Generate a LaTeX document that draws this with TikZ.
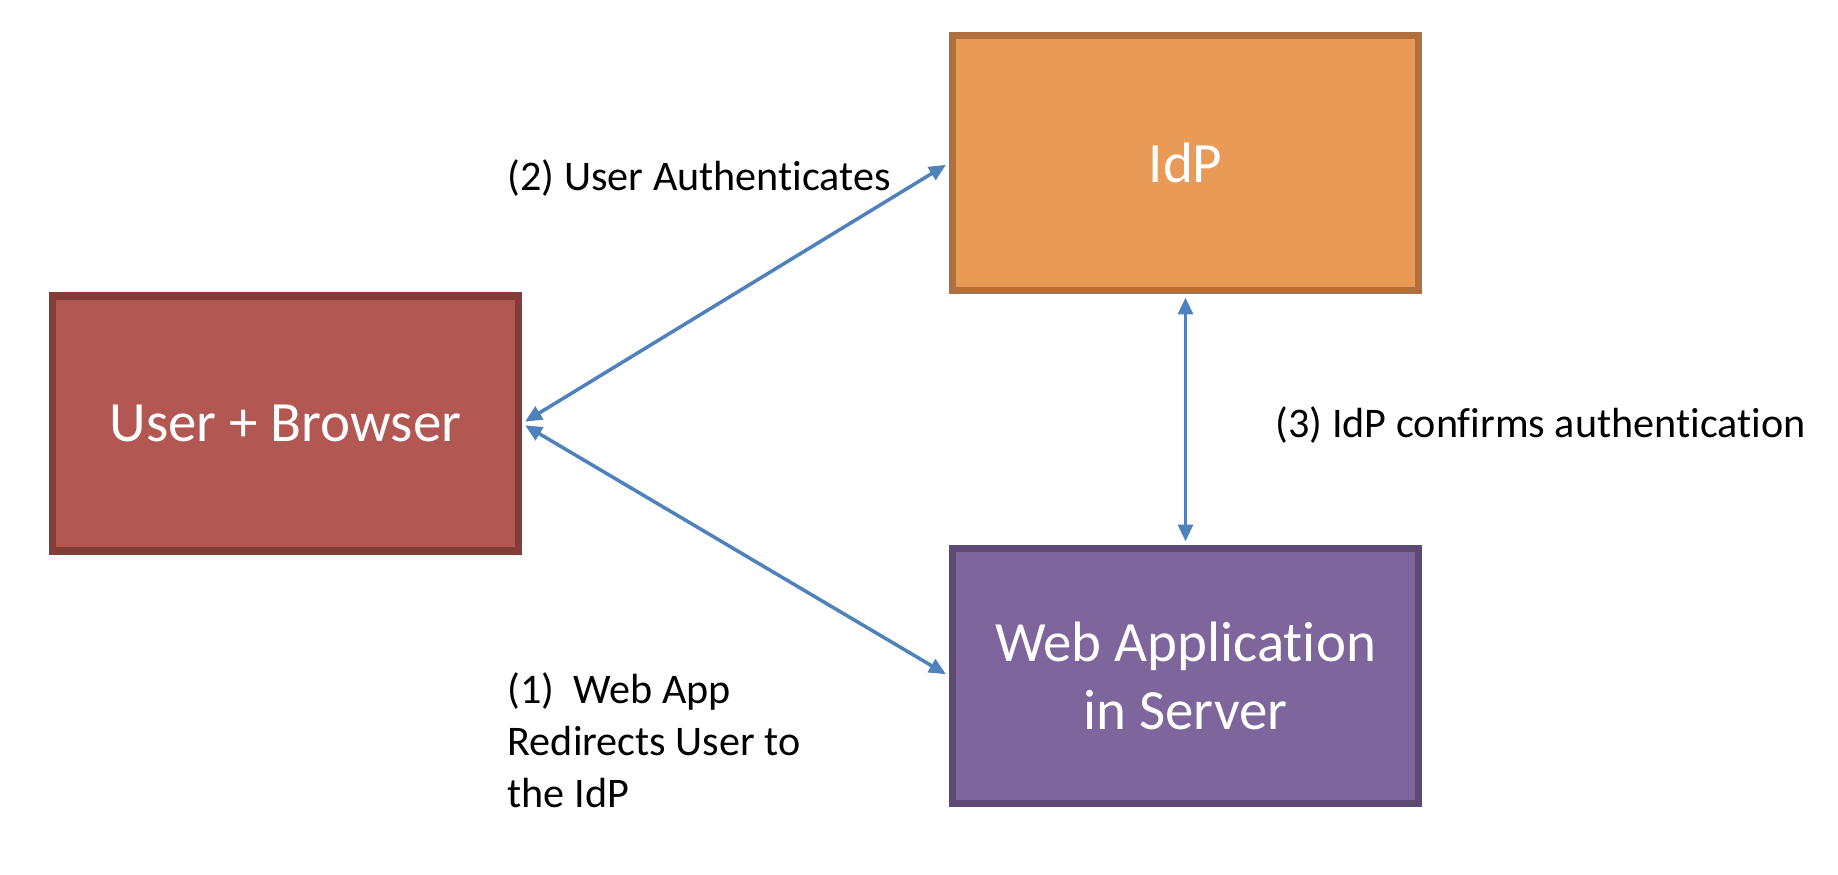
\documentclass[tikz,border=0pt]{standalone}
\usepackage{fontspec}
\setmainfont[Ligatures=NoCommon]{Carlito}
\usepackage{tikz}
\usetikzlibrary{arrows.meta}

\definecolor{userfill}{RGB}{178,87,82}
\definecolor{userline}{RGB}{132,60,57}
\definecolor{idpfill}{RGB}{233,154,87}
\definecolor{idpline}{RGB}{176,112,62}
\definecolor{appfill}{RGB}{126,101,155}
\definecolor{appline}{RGB}{94,75,117}
\definecolor{linkblue}{RGB}{79,129,189}

\begin{document}
\begin{tikzpicture}[
	entity/.style={draw, rectangle, line width=2pt, minimum width=4.66cm, minimum height=2.55cm,
		inner sep=2pt, align=center, text=white, font=\fontsize{16.2}{19.4}\selectfont},
	note/.style={anchor=west, inner sep=0pt, align=left, font=\fontsize{12}{14.8}\selectfont},
	>={Triangle[length=4.8pt,width=4.2pt]}
	]
	\useasboundingbox (0,0) rectangle (18.38,8.74);
	
	%-----------------------
	% Customizable positions
	%-----------------------
	\def\xuser{2.855}   % left column: user
	\def\xright{11.855} % right column: IdP and app
	\def\ytop{7.11}     % IdP row
	\def\ymid{4.505}    % user row
	\def\ybot{1.98}     % app row
	
	%-----------------------
	% Boxes
	%-----------------------
	\node[entity, fill=userfill, draw=userline] (UB) at (\xuser,\ymid) {User + Browser};
	\node[entity, fill=idpfill, draw=idpline] (IdP) at (\xright,\ytop) {IdP};
	\node[entity, fill=appfill, draw=appline] (WA) at (\xright,\ybot) {Web Application\\in Server};
	
	%-----------------------
	% Step labels
	%-----------------------
	\node[note] (L2) at (5.07,6.96) {(2) User Authenticates};
	\node[note] (L3) at (12.75,4.49) {(3) IdP confirms authentication};
	\node[note] (L1) at (5.07,1.34) {(1)~~Web App\\Redirects User to\\the IdP};
	
	%-----------------------
	% Connections
	%-----------------------
	\tikzset{link/.style={<->, draw=linkblue, line width=1pt, shorten >=1pt, shorten <=1pt}}
	
	\draw[link] (UB.east) -- (IdP.west);
	\draw[link] (UB.east) -- (WA.west);
	\draw[link] (IdP.south) -- (WA.north);
	
\end{tikzpicture}
\end{document}
